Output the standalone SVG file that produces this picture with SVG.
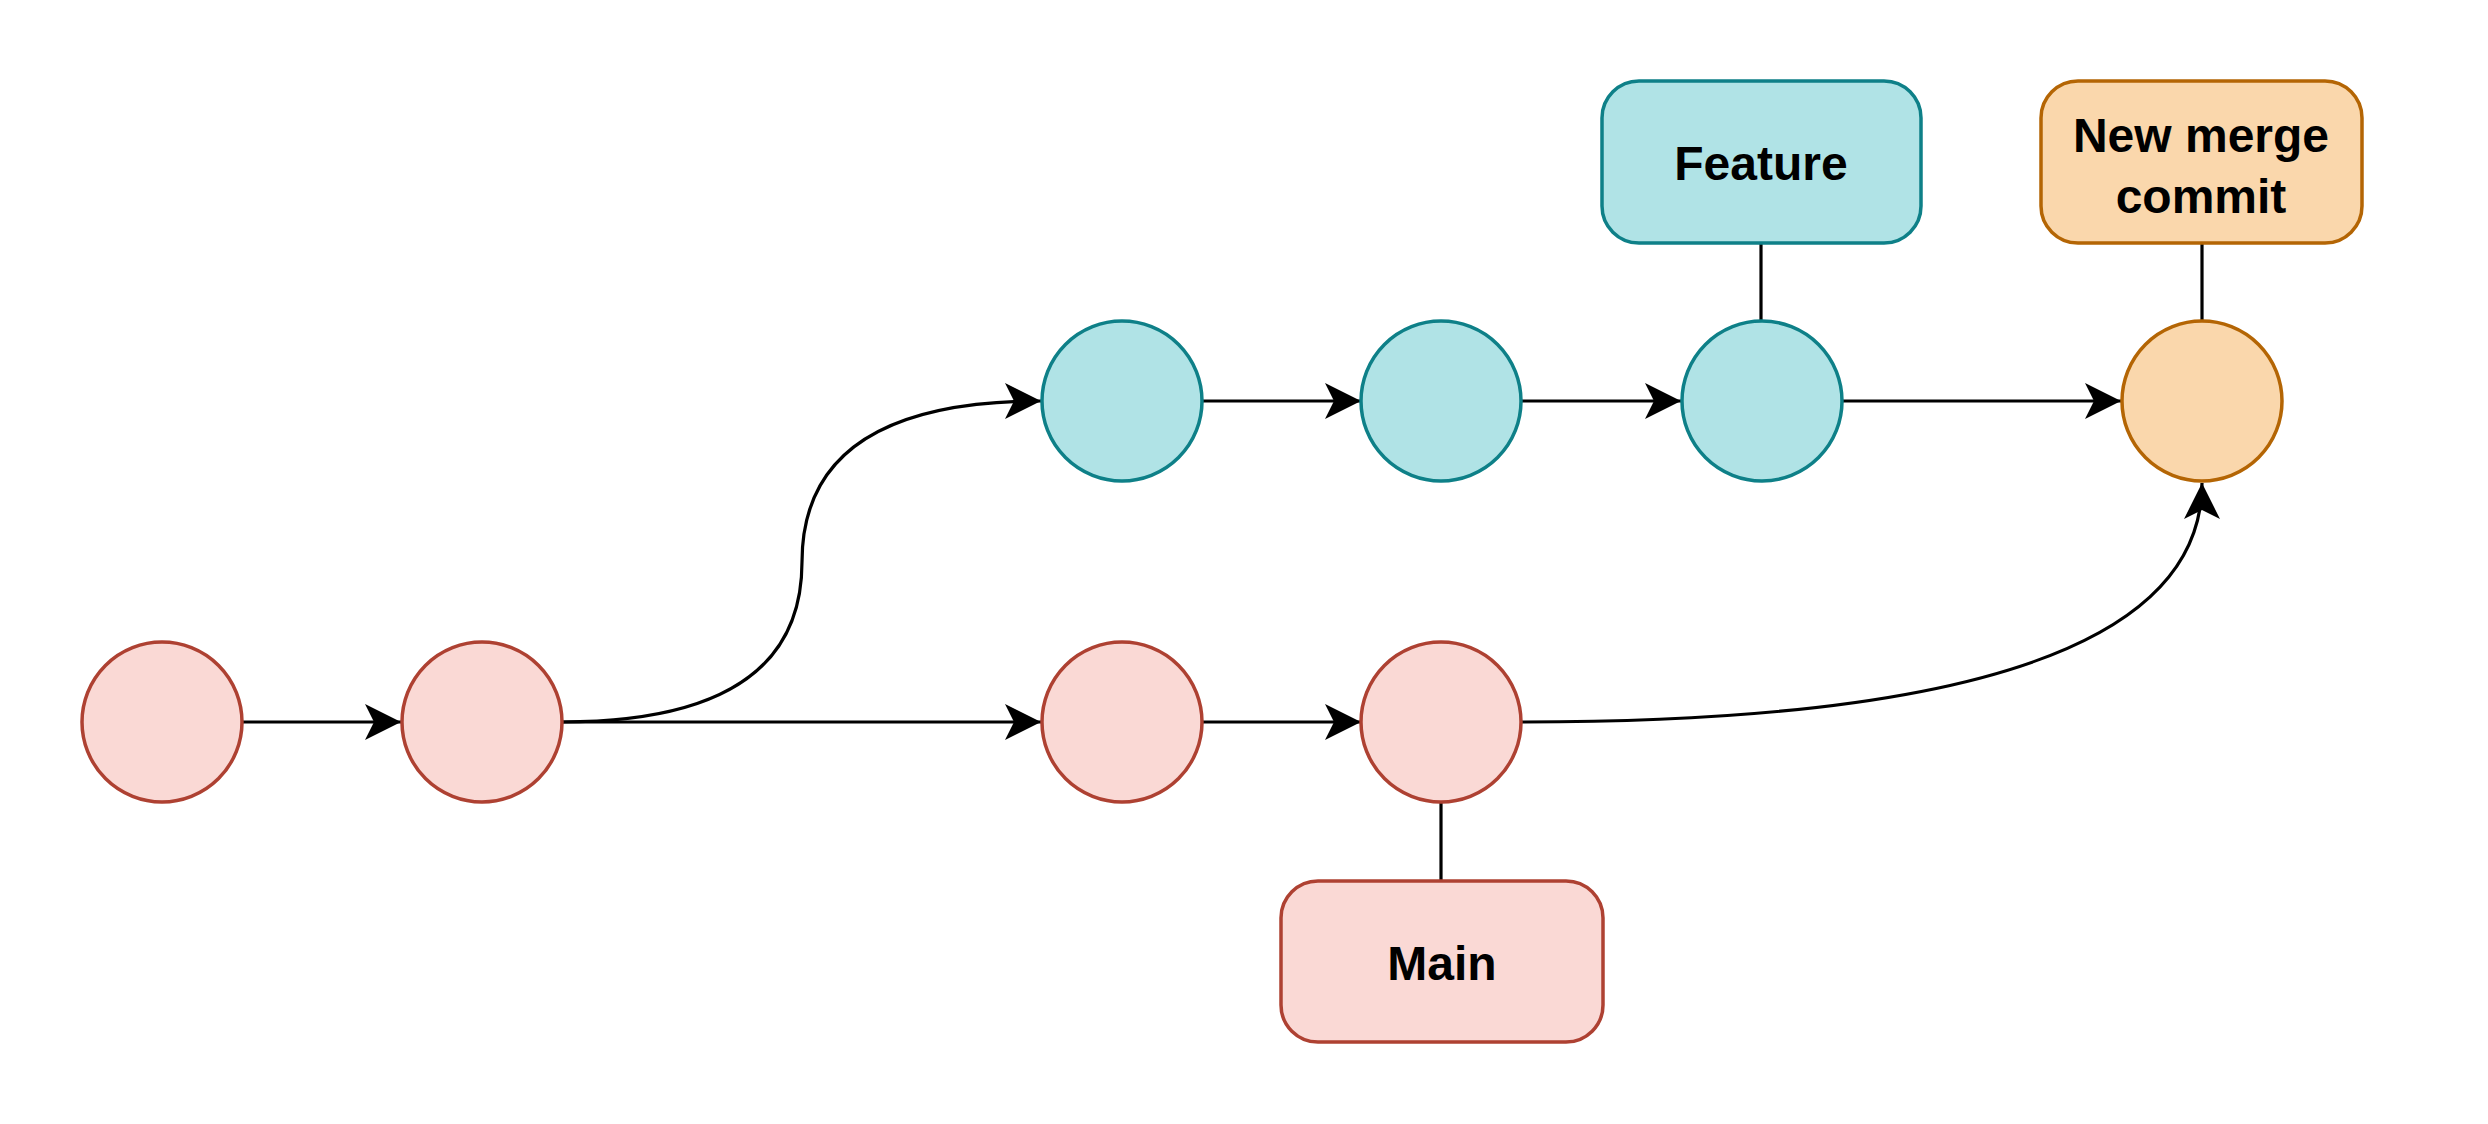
<svg xmlns="http://www.w3.org/2000/svg" width="2488" height="1124" viewBox="0 0 2488 1124">
<defs>
<marker id="arr" markerUnits="userSpaceOnUse" markerWidth="40" markerHeight="40" viewBox="-36 -20 40 40" refX="0" refY="0" orient="auto" overflow="visible">
<path d="M0,0 L-36,-18 L-27,0 L-36,18 Z" fill="#000"/>
</marker>
<style>
.pink{fill:#FAD9D5;stroke:#AE4132;stroke-width:3.5}
.teal{fill:#B0E3E6;stroke:#0E8088;stroke-width:3.5}
.orange{fill:#FAD7AC;stroke:#B46504;stroke-width:3.5}
.edge{fill:none;stroke:#000;stroke-width:3.2}
.arrow{marker-end:url(#arr)}
.lbl{font-family:"Comic Sans MS","Liberation Sans",sans-serif;font-weight:bold;font-size:48px;fill:#000;text-anchor:middle}
</style>
</defs>
<rect width="2488" height="1124" fill="#fff"/>
<g id="connectors">
<line class="edge arrow" x1="242" y1="722" x2="401" y2="722"/>
<line class="edge arrow" x1="562" y1="722" x2="1041" y2="722"/>
<line class="edge arrow" x1="1203" y1="722" x2="1361" y2="722"/>
<line class="edge arrow" x1="1203" y1="401" x2="1361" y2="401"/>
<line class="edge arrow" x1="1522" y1="401" x2="1681" y2="401"/>
<line class="edge arrow" x1="1842" y1="401" x2="2121" y2="401"/>
<path class="edge arrow" d="M562,722 Q802,722 802,562 Q802,401 1041,401"/>
<path class="edge arrow" d="M1522,722 Q2202,722 2202,483"/>
<line class="edge" x1="1761" y1="243" x2="1761" y2="321"/>
<line class="edge" x1="2202" y1="243" x2="2202" y2="321"/>
<line class="edge" x1="1441" y1="802" x2="1441" y2="881"/>
</g>
<g id="c1"><circle class="pink" cx="162" cy="722" r="80"/></g>
<g id="c2"><circle class="pink" cx="482" cy="722" r="80"/></g>
<g id="c3"><circle class="pink" cx="1122" cy="722" r="80"/></g>
<g id="c4"><circle class="pink" cx="1441" cy="722" r="80"/></g>
<g id="t1"><circle class="teal" cx="1122" cy="401" r="80"/></g>
<g id="t2"><circle class="teal" cx="1441" cy="401" r="80"/></g>
<g id="t3"><circle class="teal" cx="1762" cy="401" r="80"/></g>
<g id="merge"><circle class="orange" cx="2202" cy="401" r="80"/></g>
<g id="feature-label">
<rect class="teal" x="1602" y="81" width="319" height="162" rx="37" ry="37"/>
<text class="lbl" x="1761" y="180">Feature</text>
</g>
<g id="merge-label">
<rect class="orange" x="2041" y="81" width="321" height="162" rx="37" ry="37"/>
<text class="lbl" x="2201" y="152">New merge</text>
<text class="lbl" x="2201" y="213">commit</text>
</g>
<g id="main-label">
<rect class="pink" x="1281" y="881" width="322" height="161" rx="37" ry="37"/>
<text class="lbl" x="1442" y="980">Main</text>
</g>
</svg>
